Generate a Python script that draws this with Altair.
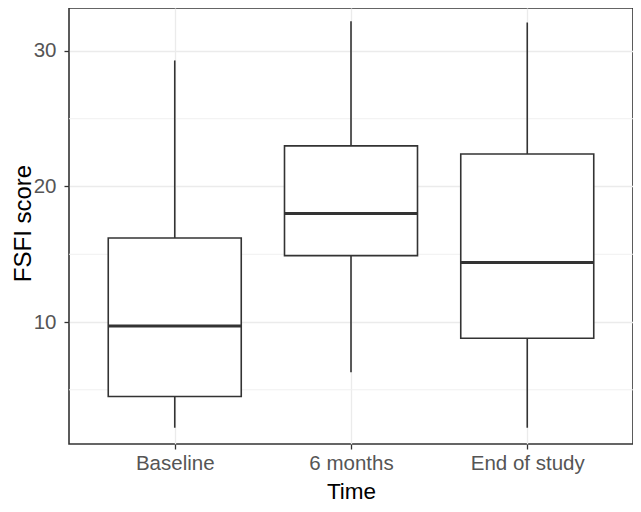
import altair as alt
import pandas as pd

times = ["Baseline", "6 months", "End of study"]
lower = [2.2, 6.3, 2.2]
q1 = [4.5, 14.9, 8.8]
median = [9.7, 18.0, 14.4]
q3 = [16.2, 23.0, 22.4]
upper = [29.3, 32.2, 32.1]
minor_breaks = [5, 15, 25]

df = pd.DataFrame({"Time": times, "lower": lower, "q1": q1, "median": median,
                   "q3": q3, "upper": upper})
minor_df = pd.DataFrame({"v": minor_breaks})

INK = "#333333"
xscale = alt.Scale(type="point", domain=times, padding=0.6)
yscale = alt.Scale(domain=[1.0, 33.17], nice=False, zero=False)

x_axis = alt.Axis(title="Time", labelFontSize=20.5, labelColor="#555555", labelFont="Liberation Sans",
                  titleFont="Liberation Sans", titleFontSize=22.5, titleColor="#000000",
                  titleFontWeight="normal", tickColor=INK, tickSize=5, tickWidth=1.3,
                  labelPadding=4, domain=False, grid=True, gridColor="#EBEBEB", gridWidth=1.3,
                  titleBaseline="alphabetic", titleY=54, labelAngle=0)
y_axis = alt.Axis(title="FSFI score", values=[10, 20, 30], labelFontSize=20.5, labelColor="#555555",
                  labelFont="Liberation Sans", titleFont="Liberation Sans", titleFontSize=24,
                  titleColor="#000000", titleFontWeight="normal", tickColor=INK, tickSize=5,
                  tickWidth=1.3, labelPadding=8, domain=False, grid=True, gridColor="#EBEBEB",
                  gridWidth=1.3, titleAngle=270, titleBaseline="alphabetic", titleX=-39,
                  titleY=215, titleAlign="center")

minor = alt.Chart(minor_df).mark_rule(color="#F0F0F0", strokeWidth=1).encode(
    y=alt.Y("v:Q", scale=yscale, axis=y_axis)
)

base = alt.Chart(df)

whisk_hi = base.mark_rule(color=INK, strokeWidth=1.6).encode(
    x=alt.X("Time:N", scale=xscale, axis=x_axis, sort=times),
    y=alt.Y("q3:Q", scale=yscale),
    y2="upper:Q",
)
whisk_lo = base.mark_rule(color=INK, strokeWidth=1.6).encode(
    x=alt.X("Time:N", scale=xscale, sort=times),
    y=alt.Y("lower:Q", scale=yscale),
    y2="q1:Q",
)
box = base.mark_bar(size=133, fill="white", stroke=INK, strokeWidth=1.6, opacity=1).encode(
    x=alt.X("Time:N", scale=xscale, sort=times),
    y=alt.Y("q1:Q", scale=yscale),
    y2="q3:Q",
)
med = base.mark_tick(size=133, thickness=3, color=INK, opacity=1).encode(
    x=alt.X("Time:N", scale=xscale, sort=times),
    y=alt.Y("median:Q", scale=yscale),
)

chart = alt.layer(minor, whisk_hi, whisk_lo, box, med).properties(
    width=564, height=436,
    background="white",
    autosize=alt.AutoSizeParams(type="none"),
    padding={"left": 61, "top": 0, "right": 0, "bottom": 60},
).configure_view(stroke=INK, strokeWidth=1.6)

chart.save("out.html", embed_options={"renderer": "svg", "actions": False})
